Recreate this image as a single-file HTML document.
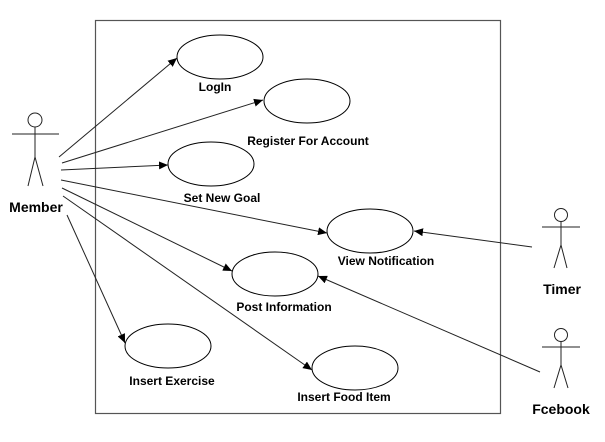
<!DOCTYPE html>
<html><head><style>body{margin:0;background:#fff}svg{display:block}</style></head><body>
<svg width="605" height="442" xmlns="http://www.w3.org/2000/svg" font-family="Liberation Sans, Arial, sans-serif" font-weight="bold" font-size="12">
<defs><marker id="a" markerWidth="10" markerHeight="8" refX="9" refY="4" orient="auto" markerUnits="userSpaceOnUse"><path d="M0,0 L9,4 L0,8 z" fill="#000"/></marker></defs>
<rect x="95.5" y="20.5" width="405" height="393" fill="none" stroke="#555" stroke-width="1.2"/>
<g fill="#fff" stroke="#000" stroke-width="1">
<ellipse cx="220" cy="57" rx="43" ry="22"/>
<ellipse cx="307" cy="101" rx="43" ry="22"/>
<ellipse cx="211" cy="164" rx="43" ry="22"/>
<ellipse cx="370" cy="231" rx="43" ry="22"/>
<ellipse cx="275" cy="274" rx="43" ry="22"/>
<ellipse cx="168" cy="346" rx="43" ry="22"/>
<ellipse cx="355" cy="368" rx="43" ry="22"/>
</g>
<g stroke="#222" stroke-width="1" marker-end="url(#a)">
<line x1="59" y1="157" x2="177" y2="58"/>
<line x1="62" y1="163" x2="263" y2="100"/>
<line x1="61" y1="170" x2="168" y2="165"/>
<line x1="61" y1="180" x2="327" y2="233"/>
<line x1="62" y1="188" x2="232" y2="271"/>
<line x1="63" y1="196" x2="312" y2="370"/>
<line x1="67" y1="215" x2="125" y2="343"/>
<line x1="532" y1="247" x2="414" y2="231"/>
<line x1="540" y1="372" x2="318" y2="276"/>
</g>
<g stroke="#222" stroke-width="1" fill="none">
<circle cx="35" cy="120" r="7"/><line x1="35" y1="127" x2="35" y2="157"/><line x1="12" y1="134" x2="59" y2="134"/><path d="M28,186 L35,157 L43,186"/>
<circle cx="561" cy="215" r="6.5"/><line x1="561" y1="222" x2="561" y2="245"/><line x1="542" y1="227" x2="580" y2="227"/><path d="M554,268 L561,245 L567,268"/>
<circle cx="561" cy="335" r="6.5"/><line x1="561" y1="342" x2="561" y2="365"/><line x1="542" y1="347" x2="580" y2="347"/><path d="M554,388 L561,365 L568,388"/>
</g>
<g text-anchor="middle" fill="#000">
<text x="215" y="91">LogIn</text>
<text x="308" y="145">Register For Account</text>
<text x="222" y="202">Set New Goal</text>
<text x="386" y="265">View Notification</text>
<text x="284" y="311">Post Information</text>
<text x="172" y="385">Insert Exercise</text>
<text x="344" y="401">Insert Food Item</text>
<text x="36" y="212" font-size="14">Member</text>
<text x="562" y="294" font-size="14">Timer</text>
<text x="561" y="414" font-size="14">Fcebook</text>
</g>
</svg>
</body></html>
